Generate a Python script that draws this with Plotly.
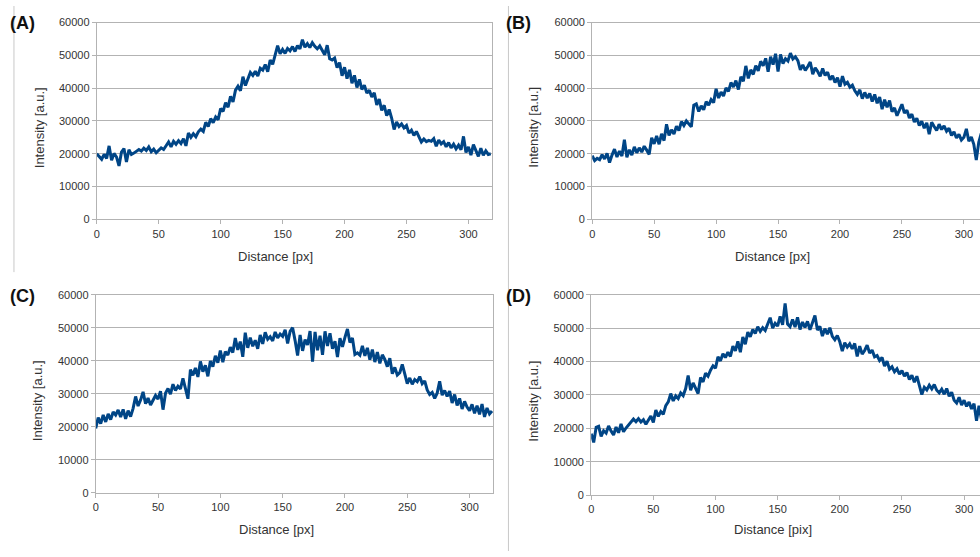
import plotly.graph_objects as go

# Distance positions (px), sampled every 2 px
distance = list(range(0, 320, 2))

# Intensity values in thousands of a.u.
a_k = [20.0, 19.2, 18.3, 19.8, 18.6, 22.4, 18.0, 20.1, 19.0, 16.3,
       20.5, 21.6, 17.5, 21.2, 19.8, 20.2, 20.9, 21.3, 20.8, 21.7,
       21.0, 22.1, 20.6, 21.4, 20.3, 21.2, 21.8, 21.3, 22.4, 23.6,
       22.1, 23.8, 22.9, 24.0, 23.1, 24.6, 22.4, 26.3, 25.0, 26.1,
       25.2, 26.7, 27.5, 26.8, 29.6, 28.3, 30.7, 29.5, 31.2, 30.4,
       33.8, 32.9, 35.6, 34.2, 37.5, 35.8, 39.4, 40.6, 39.2, 43.5,
       40.8, 42.6, 44.8, 43.9, 45.2, 43.7, 46.1, 45.5, 47.2, 45.0,
       48.6, 47.3, 50.1, 53.0, 50.5, 51.8, 50.6, 52.1, 51.4, 52.7,
       51.2, 53.0, 52.0, 54.8, 52.5, 53.6, 52.4, 53.9, 52.8, 52.0,
       52.9, 51.3, 50.2, 53.1, 49.0, 48.6, 49.2, 46.3, 47.8, 43.8,
       46.4, 42.9, 45.6, 41.5, 43.9, 40.2, 42.7, 39.6, 40.9, 38.5,
       39.4, 37.3, 38.6, 34.9, 36.7, 33.2, 34.8, 31.6, 33.5, 30.9,
       27.4, 29.7, 28.3, 29.1, 27.9, 28.6, 26.3, 27.2, 25.6, 26.8,
       24.9, 23.6, 24.5, 23.7, 24.1, 23.8, 24.6, 22.3, 24.2, 23.0,
       23.7, 22.1, 23.4, 21.8, 22.9, 21.5, 22.6, 21.2, 25.3, 20.4,
       22.1, 19.6, 22.8, 21.0, 19.2, 21.7, 19.5, 20.9, 19.8, 20.0]

b_k = [19.4, 17.9, 18.6, 18.2, 19.7, 18.4, 20.1, 17.3, 19.6, 21.4,
       19.0, 20.8, 19.3, 24.3, 18.9, 21.2, 19.6, 22.1, 20.3, 21.8,
       20.5, 22.3, 21.1, 19.8, 24.9, 23.0, 25.4, 22.9, 26.1, 24.0,
       29.0, 25.6, 27.3, 26.0, 28.4, 27.1, 29.8, 28.6, 30.0, 29.1,
       28.2, 34.8, 35.2, 32.9, 34.6, 33.4, 35.9, 34.8, 36.5, 35.6,
       39.8, 37.0, 38.8, 37.6, 40.1, 39.0, 41.7, 40.4, 42.3, 39.6,
       43.5, 42.1, 46.8, 43.0, 45.6, 44.2, 46.9, 45.3, 48.2, 46.8,
       49.1, 45.0, 49.6, 47.2, 50.5, 45.1, 50.3, 47.5, 49.0, 48.3,
       50.7, 48.9, 49.6, 48.4, 45.6, 47.1, 45.4, 46.6, 48.0, 44.3,
       46.2, 45.1, 43.6, 46.0, 43.9, 44.9, 42.6, 43.8, 41.7, 43.2,
       40.5, 43.7, 41.2, 41.8, 40.3, 40.9, 39.2, 38.1, 39.5, 36.8,
       38.7, 37.0, 38.4, 35.9, 38.1, 35.4, 37.3, 33.6, 36.5, 34.2,
       36.2, 32.8, 34.0, 31.6, 33.1, 35.1, 32.4, 33.3, 30.9, 32.1,
       29.7, 30.8, 28.6, 29.9, 27.8, 29.4, 26.0, 29.6, 28.3, 27.1,
       29.0, 27.4, 28.5, 26.9, 27.8, 25.6, 26.7, 24.8, 25.9, 24.2,
       25.0, 27.6, 23.8, 25.1, 22.9, 18.1, 23.5, 26.2, 24.6, 25.0]

c_k = [19.5, 22.8, 21.0, 23.6, 21.5, 23.9, 22.2, 24.5, 23.6, 25.1,
       23.0, 25.3, 22.4, 24.9, 23.1, 25.6, 29.2, 26.3, 28.1, 30.6,
       27.0, 28.7, 26.6, 27.9, 29.5, 28.4, 30.8, 25.2, 30.2, 31.6,
       29.9, 32.9, 31.0, 32.3, 31.5, 34.7, 32.0, 28.5, 37.3, 35.6,
       37.8, 35.1, 39.8, 36.7, 38.6, 35.3, 39.9, 38.2, 41.5, 39.4,
       43.1, 39.6, 42.8, 41.7, 44.1, 42.5, 46.9, 43.3, 45.8, 41.2,
       48.5, 43.9, 47.0, 44.4, 46.2, 43.6, 47.8, 45.1, 48.6, 46.5,
       47.3, 46.0, 48.7, 46.9, 48.1, 47.4, 49.4, 45.2, 48.9, 50.0,
       46.1, 41.6, 47.8, 43.0, 46.4, 44.8, 49.0, 39.7, 48.7, 43.2,
       47.6, 41.8, 48.9, 44.5, 48.3, 43.6, 45.9, 41.1, 46.8, 44.2,
       47.1, 49.6, 45.5, 46.9, 41.9, 42.4, 41.7, 44.5, 41.5, 43.9,
       40.3, 43.4, 39.6, 42.6, 39.2, 41.8, 40.4, 38.2, 40.8, 36.1,
       38.0, 35.7, 36.4, 38.9, 36.0, 33.1, 34.8, 32.9, 34.3, 33.7,
       35.2, 33.1, 33.9, 31.2, 29.8, 30.4, 28.6, 30.2, 33.8, 29.6,
       31.0, 29.2, 30.8, 27.2, 29.8, 26.5, 28.6, 25.4, 27.7, 26.0,
       24.9, 26.8, 24.1, 26.4, 23.8, 26.9, 23.0, 25.7, 23.9, 24.8]

d_k = [18.4, 15.8, 20.3, 20.6, 17.6, 19.3, 18.6, 20.7, 19.2, 18.0,
       20.4, 18.7, 21.3, 19.0, 20.1, 21.0, 21.6, 22.8, 22.0, 22.9,
       21.9, 22.6, 21.2, 22.5, 23.7, 21.8, 25.5, 23.6, 25.0, 24.2,
       26.8, 27.9, 30.4, 28.2, 29.7, 28.9, 30.6, 29.8, 31.9, 35.8,
       31.4, 33.6, 32.2, 30.4, 35.2, 33.9, 36.5, 35.6, 37.4, 38.7,
       38.0, 41.4, 40.2, 42.3, 41.2, 42.8, 41.5, 44.6, 43.2, 46.0,
       42.8, 47.3, 45.2, 48.8, 47.4, 49.6, 48.4, 50.4, 49.0, 50.1,
       49.3, 51.2, 53.1, 50.0, 51.4, 50.6, 53.5, 51.0, 57.4, 51.2,
       50.4, 52.6, 50.3, 53.2, 49.6, 51.8, 50.2, 52.0, 49.5, 51.6,
       53.8, 49.4, 50.5, 47.6, 49.8, 48.2, 50.1, 47.5, 46.5, 47.8,
       45.9, 43.1, 45.6, 44.3, 45.3, 43.8, 45.4, 41.5, 44.6, 42.2,
       43.3, 44.9, 42.5, 43.4, 41.4, 41.8, 40.3, 41.2, 38.6, 40.1,
       37.7, 38.4, 36.9, 37.8, 36.2, 37.3, 35.6, 36.7, 34.6, 35.9,
       33.8, 35.6, 33.2, 30.1, 32.3, 31.5, 32.9, 31.8, 33.1, 31.4,
       30.6, 31.7, 30.2, 31.9, 29.6, 30.8, 28.4, 27.6, 29.3, 27.0,
       28.4, 26.6, 27.9, 25.8, 27.4, 22.3, 26.8, 22.6, 25.9, 24.5]

panel_labels = ["(A)", "(B)", "(C)", "(D)"]
x_titles = ["Distance [px]", "Distance [px]", "Distance [px]", "Distance [pix]"]
y_title = "Intensity [a.u.]"
x_ticks = [0, 50, 100, 150, 200, 250, 300]
y_ticks = [0, 10000, 20000, 30000, 40000, 50000, 60000]

W, H = 980, 557
LINE = "#004586"
GRID = "#b3b3b3"
TXT = "#333333"
FONT = "Liberation Sans, Arial, sans-serif"

def px_x(p):
    return p / W

def px_y(p):
    return 1 - p / H

# panel geometry in pixels: (left, right, bottom, top, xmax, closed)
panels = [
    (94, 490, 218, 17, 318.6, True),
    (591, 980, 218, 17, 313.0, False),
    (93, 492, 497.7, 295, 319.2, True),
    (590, 980, 500, 295, 312.8, False),
]
series = [a_k, b_k, c_k, d_k]

fig = go.Figure()
for i, (l, r, b, t, xmax, closed) in enumerate(panels):
    n = "" if i == 0 else str(i + 1)
    fig.add_trace(go.Scatter(
        x=distance, y=[v * 1000 for v in series[i]], mode="lines",
        line=dict(color=LINE, width=3), xaxis="x" + n, yaxis="y" + n,
        showlegend=False, hoverinfo="skip"))
    fig.layout["xaxis" + n] = dict(
        domain=[px_x(l), px_x(r)], range=[0, xmax], anchor="y" + n,
        tickvals=x_ticks, showgrid=False, zeroline=False,
        showline=True, linecolor=GRID, linewidth=1, mirror=True,
        ticks="outside", ticklen=4, tickcolor=GRID,
        tickfont=dict(size=11, color=TXT, family=FONT))
    fig.layout["yaxis" + n] = dict(
        domain=[px_y(b), px_y(t)], range=[0, 60000], anchor="x" + n,
        tickvals=y_ticks, tickformat="d", showgrid=True, gridcolor=GRID,
        gridwidth=1, zeroline=False,
        showline=True, linecolor=GRID, linewidth=1, mirror=closed,
        ticks="outside", ticklen=4, tickcolor=GRID,
        tickfont=dict(size=11, color=TXT, family=FONT))

annotations = []
label_pos = [(5, 17), (503, 17), (5, 296), (503, 296)]
xt_pos = [(273, 256), (772, 256), (274, 535), (772, 535)]
yt_pos = [(36, 124), (532, 124), (34, 403), (532, 404)]
for i in range(4):
    annotations.append(dict(
        text="<b>" + panel_labels[i] + "</b>", x=px_x(label_pos[i][0]),
        y=px_y(label_pos[i][1]), xref="paper", yref="paper",
        xanchor="left", yanchor="middle", showarrow=False,
        font=dict(size=18, color="#111111", family=FONT)))
    annotations.append(dict(
        text=x_titles[i], x=px_x(xt_pos[i][0]), y=px_y(xt_pos[i][1]),
        xref="paper", yref="paper", xanchor="center", yanchor="middle",
        showarrow=False, font=dict(size=13, color=TXT, family=FONT)))
    annotations.append(dict(
        text=y_title, x=px_x(yt_pos[i][0]), y=px_y(yt_pos[i][1]),
        xref="paper", yref="paper", xanchor="center", yanchor="middle",
        textangle=-90, showarrow=False,
        font=dict(size=13, color=TXT, family=FONT)))

shapes = [
    dict(type="line", xref="paper", yref="paper", x0=px_x(11), x1=px_x(11),
         y0=px_y(0), y1=px_y(272), line=dict(color="#c8c8c8", width=1)),
    dict(type="line", xref="paper", yref="paper", x0=px_x(507), x1=px_x(507),
         y0=px_y(0), y1=px_y(557), line=dict(color="#c8c8c8", width=1)),
]

fig.update_layout(
    width=W, height=H, margin=dict(l=0, r=0, t=0, b=0),
    paper_bgcolor="white", plot_bgcolor="white",
    annotations=annotations, shapes=shapes,
    font=dict(family=FONT))

fig.write_html("out.html")
